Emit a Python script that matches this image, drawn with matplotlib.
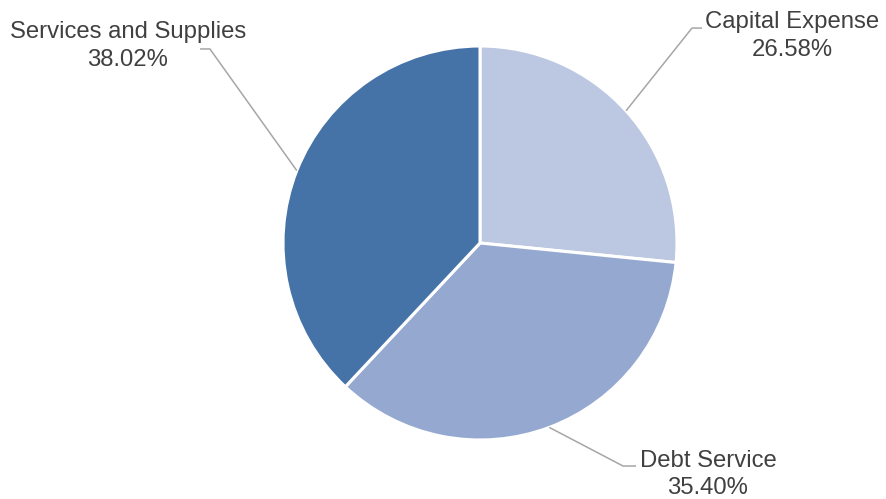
import numpy as np
import matplotlib
matplotlib.use("Agg")
import matplotlib.pyplot as plt

categories = ["Capital Expense", "Debt Service", "Services and Supplies"]
shares = [26.58, 35.40, 38.02]
colors = ["#BCC8E1", "#95A9D0", "#4573A7"]

plt.rcParams["font.family"] = ["Liberation Sans", "DejaVu Sans"]

W, H, DPI = 887, 499, 100
fig = plt.figure(figsize=(W / DPI, H / DPI), dpi=DPI)

# pie centre and radius in pixels
cx, cy, r = 480, 243, 197
ax = fig.add_axes([(cx - r) / W, (H - cy - r) / H, 2 * r / W, 2 * r / H])
ax.axis("off")

wedges, _ = ax.pie(shares, colors=colors, startangle=90, counterclock=False,
                   radius=1.0, center=(0, 0), frame=False,
                   wedgeprops=dict(edgecolor="white", linewidth=2.2))
ax.set_xlim(-1, 1)
ax.set_ylim(-1, 1)

# label layout: (elbow x, elbow y, end x, text x, text y) in radius units
layout = {
    "Capital Expense": (1.076, 1.091, 1.127, 1.584, 1.050),
    "Debt Service": (0.726, -1.132, 0.792, 1.157, -1.175),
    "Services and Supplies": (-1.371, 0.985, -1.421, -1.787, 1.000),
}

line_col = "#A6A6A6"
text_col = "#404040"
for w, name, val in zip(wedges, categories, shares):
    mid = np.deg2rad((w.theta1 + w.theta2) / 2)
    sx, sy = np.cos(mid), np.sin(mid)
    ex, ey, hx, tx, ty = layout[name]
    ax.plot([sx, ex, hx], [sy, ey, ey], color=line_col, lw=1.1,
            clip_on=False, solid_capstyle="butt")
    ax.text(tx, ty, f"{name}\n{val:.2f}%", ha="center", va="center",
            multialignment="center", fontsize=17.2, color=text_col,
            linespacing=1.32, clip_on=False)

fig.savefig("out.png", dpi=DPI)
